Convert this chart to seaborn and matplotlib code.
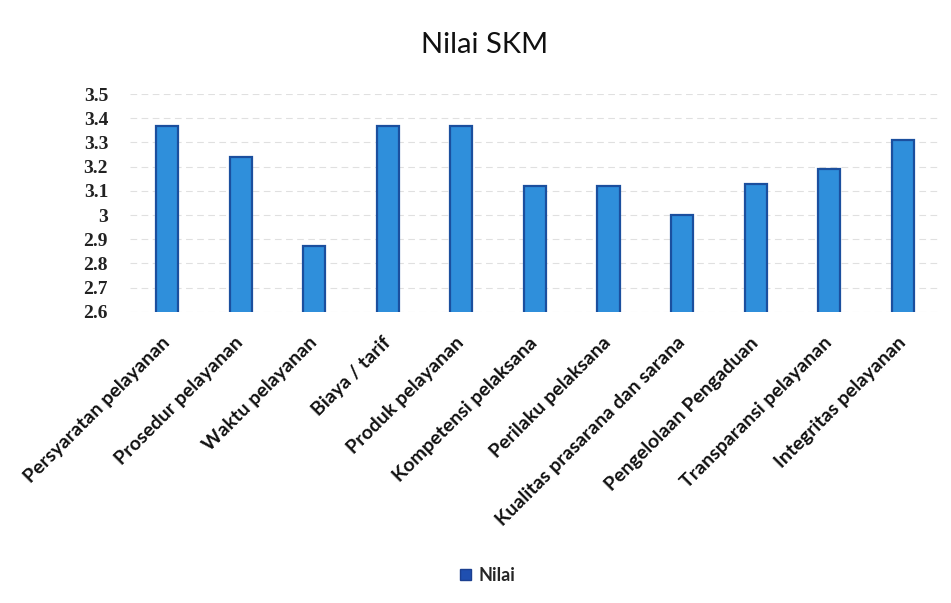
import matplotlib
matplotlib.use("Agg")
import matplotlib.pyplot as plt
import matplotlib.transforms as mtransforms
import seaborn as sns
import pandas as pd
from matplotlib.patches import Patch

categories = ["Persyaratan pelayanan", "Prosedur pelayanan", "Waktu pelayanan",
              "Biaya / tarif", "Produk pelayanan", "Kompetensi pelaksana",
              "Perilaku pelaksana", "Kualitas prasarana dan sarana",
              "Pengelolaan Pengaduan", "Transparansi pelayanan", "Integritas pelayanan"]
values = [3.37, 3.24, 2.87, 3.37, 3.37, 3.12, 3.12, 3.00, 3.13, 3.19, 3.31]
yticks = [2.6, 2.7, 2.8, 2.9, 3.0, 3.1, 3.2, 3.3, 3.4, 3.5]
ytick_labels = ["2.6", "2.7", "2.8", "2.9", "3", "3.1", "3.2", "3.3", "3.4", "3.5"]
series_name = "Nilai"
title = "Nilai SKM"

sns.set_theme(style="white")
plt.rcParams['font.family'] = ['Lato', 'DejaVu Sans']

df = pd.DataFrame({"cat": categories, "val": values})

fig = plt.figure(figsize=(9.51, 6.03), dpi=100)
ax = fig.add_axes([0.137, 0.483, 0.851, 0.361])

sns.barplot(data=df, x="cat", y="val", ax=ax, color="#2f8fdb", width=0.3,
            edgecolor="#1b4f9e", linewidth=1.6, saturation=1)
ax.set_ylim(2.6, 3.5)
ax.set_xlim(-0.5, len(categories) - 0.5)
ax.set_yticks(yticks)
ax.set_yticklabels(ytick_labels, family=['Liberation Serif'], fontsize=14, fontweight='bold',
                   color='#222222')
ax.yaxis.grid(True, color="#e0e0e0", linewidth=0.8, linestyle=(0, (6, 4)))
ax.set_axisbelow(True)
for s in ax.spines.values():
    s.set_visible(False)
ax.tick_params(axis='both', length=0)
ax.tick_params(axis='y', pad=16)
ax.set_xlabel("")
ax.set_ylabel("")
ax.tick_params(axis='x', pad=16)
offset = mtransforms.ScaledTranslation(-6 / 100, 0, fig.dpi_scale_trans)
for lbl in ax.get_xticklabels():
    lbl.set_rotation(45)
    lbl.set_ha('right')
    lbl.set_rotation_mode('anchor')
    lbl.set_fontsize(14)
    lbl.set_fontweight('bold')
    lbl.set_color('#111111')
    lbl.set_transform(lbl.get_transform() + offset)

fig.text(0.51, 0.925, title, ha='center', va='center', fontsize=21, color='#111111')

handles = [Patch(facecolor="#1f4fb0", edgecolor="#1b3f90", label=series_name)]
fig.legend(handles=handles, loc='center', bbox_to_anchor=(0.513, 0.046), frameon=False,
           handlelength=0.6, handleheight=0.6, handletextpad=0.4,
           prop={'weight': 'bold', 'size': 13})

fig.savefig("out.png", dpi=100, facecolor="white")
